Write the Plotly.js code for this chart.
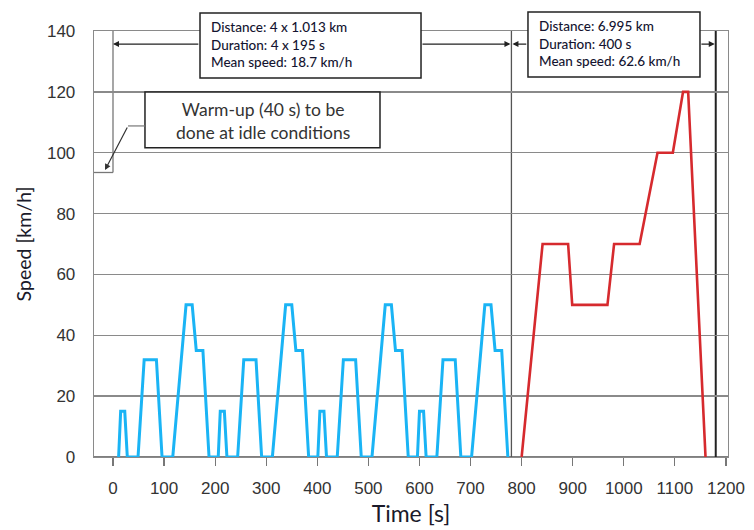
<!DOCTYPE html>
<html>
<head>
<meta charset="utf-8">
<script src="https://cdn.plot.ly/plotly-3.0.1.min.js"></script>
<style>html,body{margin:0;padding:0;background:#fff;}#chart{width:754px;height:530px;}</style>
</head>
<body>
<div id="chart"></div>
<script>
// Urban part (ECE-15, 4 repetitions)
var urbanTime = [11,15,23,28,49,61,85,96,117,143,155,163,176,188,
                 206,210,218,223,244,256,280,291,312,338,350,358,371,383,
                 401,405,413,418,439,451,475,486,507,533,545,553,566,578,
                 596,600,608,613,634,646,670,681,702,728,740,748,761,773];
var urbanSpeed = [0,15,15,0,0,32,32,0,0,50,50,35,35,0,
                  0,15,15,0,0,32,32,0,0,50,50,35,35,0,
                  0,15,15,0,0,32,32,0,0,50,50,35,35,0,
                  0,15,15,0,0,32,32,0,0,50,50,35,35,0];
// Extra-urban part (EUDC)
var extraTime  = [800,841,891,899,968,981,1031,1066,1096,1116,1126,1160];
var extraSpeed = [0,70,70,50,50,70,70,100,100,120,120,0];

var xTicks = [0,100,200,300,400,500,600,700,800,900,1000,1100,1200];
var yTicks = [0,20,40,60,80,100,120,140];

var urbanBox = ['Distance: 4 x 1.013 km','Duration: 4 x 195 s','Mean speed: 18.7 km/h'];
var extraBox = ['Distance: 6.995 km','Duration: 400 s','Mean speed: 62.6 km/h'];
var warmText = ['Warm-up (40 s) to be','done at idle conditions'];

var traces = [
  {x: urbanTime, y: urbanSpeed, type:'scatter', mode:'lines', cliponaxis:false,
   line:{color:'#1ab4f5', width:3}, hoverinfo:'x+y'},
  {x: extraTime, y: extraSpeed, type:'scatter', mode:'lines', cliponaxis:false,
   line:{color:'#d62a2e', width:2.6}, hoverinfo:'x+y'}
];

var yArrow = 135.7;
var boxFont = {family:'Lato, "Noto Sans", sans-serif', size:13.5, color:'#141430', weight:500};

var layout = {
  width:754, height:530,
  margin:{l:94, r:26, t:31, b:72.5},
  paper_bgcolor:'#fff', plot_bgcolor:'#fff',
  showlegend:false,
  xaxis:{
    range:[-37.2, 1204], tickvals:xTicks, ticktext:xTicks.map(String),
    showgrid:false, zeroline:false,
    showline:true, mirror:true, linecolor:'#8a8a8a', linewidth:1.3,
    ticks:'outside', ticklen:8, tickwidth:1.2, tickcolor:'#777',
    ticklabelstandoff:7,
    tickfont:{family:'"Liberation Sans", Arial, sans-serif', size:17, color:'#333'},
    title:{text:'Time [s]', standoff:9, font:{family:'Lato, "Noto Sans", sans-serif', size:23, color:'#1a1a2a'}},
    layer:'below traces'
  },
  yaxis:{
    range:[0,140], tickvals:yTicks, ticktext:yTicks.map(String),
    showgrid:true, gridcolor:'#8a8a8a', gridwidth:1.3, zeroline:false,
    showline:true, mirror:true, linecolor:'#8a8a8a', linewidth:1.3,
    ticks:'', ticklabelstandoff:14,
    tickfont:{family:'"Liberation Sans", Arial, sans-serif', size:17, color:'#333'},
    title:{text:'Speed [km/h]', standoff:10, font:{family:'Lato, "Noto Sans", sans-serif', size:19.5, color:'#1a1a2a'}},
    layer:'below traces'
  },
  shapes:[
    {type:'line', xref:'paper', yref:'y', x0:0, x1:1, y0:0, y1:0, line:{color:'#555', width:1.3}, layer:'below'},
    {type:'line', xref:'x', yref:'paper', x0:780, x1:780, y0:0, y1:1, line:{color:'#555', width:1.3}, layer:'below'},
    {type:'line', xref:'x', yref:'paper', x0:1180, x1:1180, y0:0, y1:1, line:{color:'#222', width:2}, layer:'below'},
    {type:'line', xref:'x', yref:'y', x0:0, x1:0, y0:93.5, y1:140, line:{color:'#777', width:1.3}, layer:'below'},
    {type:'line', xref:'x', yref:'y', x0:-37.2, x1:0, y0:93.5, y1:93.5, line:{color:'#777', width:1.3}, layer:'below'},
    {type:'rect', xref:'paper', yref:'paper', x0:0.1672, x1:0.5158, y0:0.8898, y1:1.0422,
     fillcolor:'#fff', line:{color:'#222', width:1.5}, layer:'above'},
    {type:'rect', xref:'paper', yref:'paper', x0:0.6845, x1:0.9558, y0:0.8921, y1:1.0445,
     fillcolor:'#fff', line:{color:'#222', width:1.5}, layer:'above'},
    {type:'rect', xref:'paper', yref:'paper', x0:0.0804, x1:0.4511, y0:0.7257, y1:0.857,
     fillcolor:'#fff', line:{color:'#222', width:1.5}, layer:'above'},
    {type:'line', xref:'x', yref:'y', x0:29.4, x1:62.6, y0:108.8, y1:108.8, line:{color:'#777', width:1.2}, layer:'above'}
  ],
  annotations:[
    {xref:'paper', yref:'paper', x:0.1815, y:1.0335, xanchor:'left', yanchor:'top', align:'left',
     showarrow:false, text:urbanBox.join('<br>'), font:boxFont},
    {xref:'paper', yref:'paper', x:0.6995, y:1.036, xanchor:'left', yanchor:'top', align:'left',
     showarrow:false, text:extraBox.join('<br>'), font:boxFont},
    {xref:'paper', yref:'paper', x:0.2658, y:0.7895, xanchor:'center', yanchor:'middle', align:'center',
     showarrow:false, text:warmText.join('<br>'), font:{family:'Lato, "Noto Sans", sans-serif', size:17.5, color:'#333'}},
    {x:0, y:yArrow, ax:170, ay:yArrow, xref:'x', yref:'y', axref:'x', ayref:'y', text:'', showarrow:true,
     arrowhead:2, arrowsize:1, arrowwidth:1.2, arrowcolor:'#222', standoff:0},
    {x:780, y:yArrow, ax:603, ay:yArrow, xref:'x', yref:'y', axref:'x', ayref:'y', text:'', showarrow:true,
     arrowhead:2, arrowsize:1, arrowwidth:1.2, arrowcolor:'#222', standoff:1},
    {x:780, y:yArrow, ax:812, ay:yArrow, xref:'x', yref:'y', axref:'x', ayref:'y', text:'', showarrow:true,
     arrowhead:2, arrowsize:1, arrowwidth:1.2, arrowcolor:'#222', standoff:1},
    {x:1180, y:yArrow, ax:1149, ay:yArrow, xref:'x', yref:'y', axref:'x', ayref:'y', text:'', showarrow:true,
     arrowhead:2, arrowsize:1, arrowwidth:1.2, arrowcolor:'#222', standoff:1},
    {x:-15.7, y:94.3, ax:29.4, ay:108.8, xref:'x', yref:'y', axref:'x', ayref:'y', text:'', showarrow:true,
     arrowhead:2, arrowsize:1, arrowwidth:1.2, arrowcolor:'#333', standoff:0}
  ]
};

Plotly.newPlot('chart', traces, layout, {displayModeBar:false, staticPlot:true});
</script>
</body>
</html>
